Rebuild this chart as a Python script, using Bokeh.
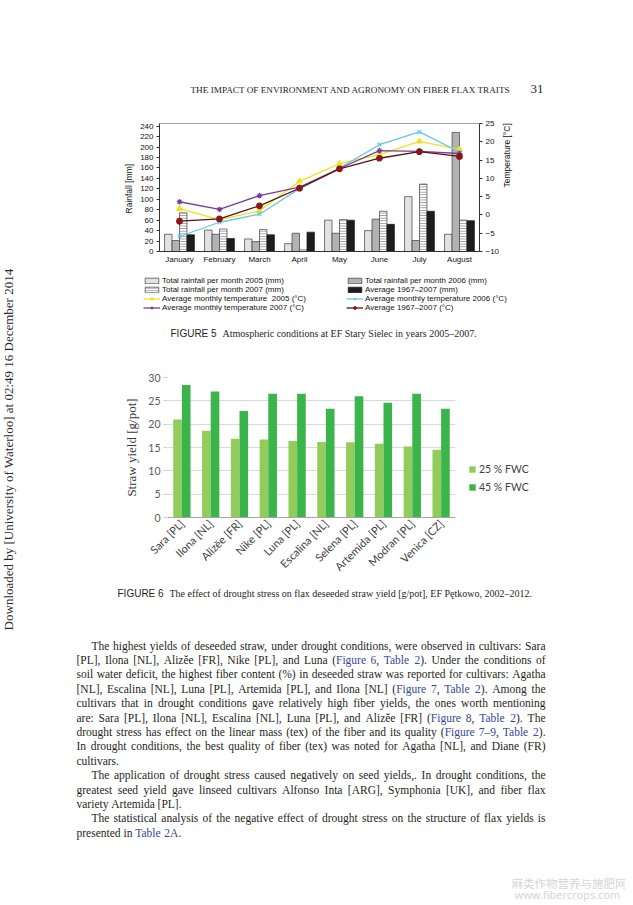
import math
from bokeh.plotting import figure
from bokeh.models import (ColumnDataSource, FactorRange, Range1d, LinearAxis, FixedTicker,
                          Legend, LegendItem)
from bokeh.layouts import row, column
from bokeh.transform import dodge
from bokeh.core.properties import value
from bokeh.embed import file_html
from bokeh.resources import INLINE

# ---------------- data: Figure 5 ----------------
months = ["January", "February", "March", "April", "May", "June", "July", "August"]
rain_2005 = [33, 41, 24, 15, 60, 40, 105, 33]
rain_2006 = [21, 33, 19, 35, 35, 62, 21, 228]
rain_2007 = [74, 43, 42, 3, 61, 77, 129, 60]
rain_avg = [32, 25, 32, 37, 60, 52, 77, 59]
temp_2005 = [1.7, -1.3, 1.1, 9.2, 14.0, 16.5, 20.1, 17.9]
temp_2006 = [-5.9, -2.0, 0.2, 7.2, 12.8, 19.2, 22.7, 17.2]
temp_2007 = [3.6, 1.5, 5.3, 7.6, 12.7, 17.6, 17.4, 16.8]
temp_avg = [-1.7, -1.1, 2.5, 7.3, 12.6, 15.5, 17.3, 16.0]
rain_ticks = list(range(0, 241, 20))
temp_ticks = list(range(-10, 26, 5))

# ---------------- data: Figure 6 ----------------
cultivars = ["Sara [PL]", "Ilona [NL]", "Alizĕe [FR]", "Nike [PL]", "Luna [PL]",
             "Escalina [NL]", "Selena [PL]", "Artemida [PL]", "Modran [PL]", "Venica [CZ]"]
fwc_25 = [21.0, 18.6, 16.9, 16.7, 16.4, 16.2, 16.1, 15.8, 15.2, 14.5]
fwc_45 = [28.4, 27.0, 22.8, 26.5, 26.5, 23.3, 26.0, 24.6, 26.5, 23.3]
yield_ticks = [0, 5, 10, 15, 20, 25, 30]

# ---------------- page text ----------------
header_text = "THE IMPACT OF ENVIRONMENT AND AGRONOMY ON FIBER FLAX TRAITS"
page_no = "31"
side_text = "Downloaded by [University of Waterloo] at 02:49 16 December 2014"
cap5_a, cap5_b = "FIGURE 5", "Atmospheric conditions at EF Stary Sielec in years 2005\u20132007."
cap6_a, cap6_b = "FIGURE 6", "The effect of drought stress on flax deseeded straw yield [g/pot], EF P\u0119tkowo, 2002\u20132012."
body_lines = [
    ("The highest yields of deseeded straw, under drought conditions, were observed in cultivars: Sara", True, False),
    ("[PL], Ilona [NL], Aliz\u0115e [FR], Nike [PL], and Luna ({Figure 6}, {Table 2}). Under the conditions of", False, False),
    ("soil water deficit, the highest fiber content (%) in deseeded straw was reported for cultivars: Agatha", False, False),
    ("[NL], Escalina [NL], Luna [PL], Artemida [PL], and Ilona [NL] ({Figure 7}, {Table 2}). Among the", False, False),
    ("cultivars that in drought conditions gave relatively high fiber yields, the ones worth mentioning", False, False),
    ("are: Sara [PL], Ilona [NL], Escalina [NL], Luna [PL], and Aliz\u0115e [FR] ({Figure 8}, {Table 2}). The", False, False),
    ("drought stress has effect on the linear mass (tex) of the fiber and its quality ({Figure 7\u20139}, {Table 2}).", False, False),
    ("In drought conditions, the best quality of fiber (tex) was noted for Agatha [NL], and Diane (FR)", False, False),
    ("cultivars.", False, True),
    ("The application of drought stress caused negatively on seed yields,. In drought conditions, the", True, False),
    ("greatest seed yield gave linseed cultivars Alfonso Inta [ARG], Symphonia [UK], and fiber flax", False, False),
    ("variety Artemida [PL].", False, True),
    ("The statistical analysis of the negative effect of drought stress on the structure of flax yields is", True, False),
    ("presented in {Table 2A}.", False, True),
]
wm_cn = "麻类作物营养与施肥网"
wm_url = "www.fibercrops.com"

SANS = "Liberation Sans"
SERIF = "Liberation Serif"
CAL = "Lato"
INK = "#231f20"
LINK = "#34469a"

RW = 597          # right column width
STRIP_W = 28
H_HEAD, H_C5, H_L5, H_C6, H_BODY = 112, 160, 73, 239, 319
TOTAL_H = H_HEAD + H_C5 + H_L5 + H_C6 + H_BODY


def no_align(p):
    try:
        p.frame_align = False
    except Exception:
        pass
    return p


def canvas(w, h):
    p = figure(frame_width=w, frame_height=h, x_range=Range1d(0, w), y_range=Range1d(h, 0),
               x_axis_type=None, y_axis_type=None, toolbar_location=None,
               output_backend="svg", min_border=0, title=None)
    p.outline_line_color = None
    p.background_fill_color = "white"
    p.border_fill_color = "white"
    return no_align(p)


def put(p, x, y, text, size, font=SERIF, color=INK, align="left", baseline="middle",
        angle=0.0, style="normal"):
    p.text(x=[x], y=[y], text=[text], text_font=value(font), text_font_size=f"{size}px",
           text_color=color, text_align=align, text_baseline=baseline, angle=angle,
           text_font_style=style)


# Times (Liberation Serif) advance widths, per 1000 em
TW = {' ': 250, ',': 250, '.': 250, ':': 278, ';': 278, '(': 333, ')': 333, '[': 333,
      ']': 333, '%': 833, '\u2013': 500, '-': 333, '/': 278, '\u0115': 444, '\u0119': 444}
TW.update(dict(zip("abcdefghijklmnopqrstuvwxyz",
                   [444, 500, 444, 500, 444, 333, 500, 500, 278, 278, 500, 278, 778, 500,
                    500, 500, 500, 333, 389, 278, 500, 500, 722, 500, 500, 444])))
TW.update(dict(zip("ABCDEFGHIJKLMNOPQRSTUVWXYZ",
                   [722, 667, 667, 722, 611, 556, 722, 722, 333, 389, 722, 611, 889, 722,
                    722, 556, 722, 667, 556, 611, 722, 722, 944, 722, 722, 611])))
TW.update({d: 500 for d in "0123456789"})


def tw(s, fs):
    return sum(TW.get(c, 500) for c in s) * fs / 1000.0


# ---------------- left strip ----------------
strip = canvas(STRIP_W, TOTAL_H)
put(strip, 8, 449, side_text, 13, font=SERIF, color="#2a2a2a", align="center",
    angle=math.pi / 2)

# ---------------- header ----------------
head = canvas(RW, H_HEAD)
put(head, 162, 89, header_text, 9.2, font=SERIF, color=INK)
put(head, 502, 88, page_no, 13, font=SERIF, color=INK)

# ---------------- Figure 5 ----------------
src5 = ColumnDataSource(dict(month=months, r05=rain_2005, r06=rain_2006, r07=rain_2007,
                             ravg=rain_avg, t05=temp_2005, t06=temp_2006, t07=temp_2007,
                             tavg=temp_avg))
p5 = figure(frame_width=320, frame_height=128, x_range=FactorRange(factors=months),
            y_range=Range1d(0, 245), toolbar_location=None, output_backend="svg",
            min_border_left=131, min_border_right=146, min_border_top=11,
            min_border_bottom=21, title=None)
no_align(p5)
p5.extra_y_ranges = {"temp": Range1d(-10, 25)}
p5.xgrid.visible = False
p5.ygrid.visible = False
p5.outline_line_color = "#a0a0a0"

rain_series = [
    ("Total rainfall per month 2005 (mm)", "r05",
     dict(fill_color="#e2e2e2", line_color="#3c3c3c")),
    ("Total rainfall per month 2006 (mm)", "r06",
     dict(fill_color="#b2b2b2", line_color="#3c3c3c")),
    ("Total rainfall per month 2007 (mm)", "r07",
     dict(fill_color="white", line_color="#3c3c3c", hatch_pattern="horizontal_line",
          hatch_color="#8a8a8a", hatch_scale=2.6, hatch_weight=0.9)),
    ("Average 1967\u20132007 (mm)", "ravg",
     dict(fill_color="#1d1d1d", line_color="#1d1d1d")),
]
offsets = [-0.28, -0.093, 0.093, 0.28]
for (lab, key, st), off in zip(rain_series, offsets):
    p5.vbar(x=dodge("month", off, range=p5.x_range), top=key, width=0.186, source=src5,
            line_width=0.7, **st)

temp_series = [
    ("Average monthly temperature  2005 (\u00b0C)", "t05",
     dict(color="#efe21a", marker="triangle", mfill="#efe21a")),
    ("Average monthly temperature 2006 (\u00b0C)", "t06",
     dict(color="#63c7ec", marker="x", mfill="#63c7ec")),
    ("Average monthly temperature 2007 (\u00b0C)", "t07",
     dict(color="#7a3d97", marker="asterisk", mfill="#7a3d97")),
    ("Average 1967\u20132007 (\u00b0C)", "tavg",
     dict(color="#5e1010", marker="circle", mfill="#8a1616")),
]
for lab, key, st in temp_series:
    p5.line(x="month", y=key, source=src5, y_range_name="temp", line_color=st["color"],
            line_width=1.3)
    p5.scatter(x="month", y=key, source=src5, y_range_name="temp", marker=st["marker"],
               size=5.5, line_color=st["mfill"], fill_color=st["mfill"], line_width=1.2)

ax_l = p5.yaxis[0]
ax_l.ticker = FixedTicker(ticks=rain_ticks)
ax_l.axis_label = "Rainfall  [mm]"
ax_r = LinearAxis(y_range_name="temp", ticker=FixedTicker(ticks=temp_ticks),
                  axis_label="Temperature [\u00b0C]")
p5.add_layout(ax_r, "right")
for ax in (ax_l, ax_r, p5.xaxis[0]):
    ax.major_label_text_font = SANS
    ax.major_label_text_font_size = "8px"
    ax.major_label_text_color = "#111111"
    ax.axis_label_text_font = SANS
    ax.axis_label_text_font_size = "8.5px"
    ax.axis_label_text_font_style = "normal"
    ax.axis_label_text_color = "#111111"
    ax.axis_line_color = "#333333"
    ax.major_tick_line_color = "#333333"
    ax.minor_tick_line_color = None
    ax.major_tick_in = 0
    ax.major_tick_out = 3
    ax.major_label_standoff = 3
ax_l.axis_label_standoff = 3
ax_r.axis_label_standoff = 5
try:
    ax_r.axis_label_orientation = math.pi / 2
except Exception:
    pass
p5.xaxis[0].major_tick_out = 0
p5.xaxis[0].major_label_standoff = 3

# ---------------- Figure 5 legend + caption ----------------
# legend-only renderers: their single point is NaN, so nothing is drawn on the canvas
l5 = canvas(RW, H_L5)
nan_x, nan_y = [float("nan")], [float("nan")]
leg_items_l, leg_items_r = [], []
all5 = [(lab, "bar", st) for lab, key, st in rain_series] + \
       [(lab, "line", st) for lab, key, st in temp_series]
for i, (lab, kind, st) in enumerate(all5):
    if kind == "bar":
        rr = [l5.vbar(x=nan_x, top=nan_y, width=1, line_width=0.7, **st)]
    else:
        rr = [l5.line(x=nan_x, y=nan_y, line_color=st["color"], line_width=1.3),
              l5.scatter(x=nan_x, y=nan_y, marker=st["marker"], size=5,
                         line_color=st["mfill"], fill_color=st["mfill"])]
    item = LegendItem(label=lab, renderers=rr)
    (leg_items_l if i % 2 == 0 else leg_items_r).append(item)
for items, lx in ((leg_items_l, 115), (leg_items_r, 318)):
    lg = Legend(items=items, location=(lx, 33), orientation="vertical",
                label_text_font=SANS, label_text_font_size="8px",
                label_text_color="#111111", label_height=8, label_standoff=2,
                glyph_width=17, glyph_height=7, spacing=0, padding=0, margin=0,
                border_line_color=None, background_fill_alpha=0)
    try:
        lg.label_text_line_height = 1.0
    except Exception:
        pass
    l5.add_layout(lg)
put(l5, 142, 61, cap5_a, 10, font=SANS, color=INK)
put(l5, 194, 61, cap5_b, 10, font=SERIF, color=INK)

# ---------------- Figure 6 ----------------
src6 = ColumnDataSource(dict(cult=cultivars, f25=fwc_25, f45=fwc_45))
p6 = figure(frame_width=288, frame_height=140, x_range=FactorRange(factors=cultivars),
            y_range=Range1d(0, 30), toolbar_location=None, output_backend="svg",
            min_border_left=139, min_border_right=170, min_border_top=32,
            min_border_bottom=67, title=None)
no_align(p6)
p6.outline_line_color = None
p6.xgrid.visible = False
p6.ygrid.grid_line_color = "#d9d9d9"
p6.ygrid.grid_line_width = 1
p6.yaxis.ticker = FixedTicker(ticks=yield_ticks)
r25 = p6.vbar(x=dodge("cult", -0.15, range=p6.x_range), top="f25", width=0.3, source=src6,
              fill_color="#92cc5b", line_color=None)
r45 = p6.vbar(x=dodge("cult", 0.15, range=p6.x_range), top="f45", width=0.3, source=src6,
              fill_color="#3bb44c", line_color=None)
ya = p6.yaxis[0]
ya.axis_label = "Straw yield [g/pot]"
ya.axis_label_text_font = SERIF
ya.axis_label_text_font_size = "13px"
ya.axis_label_text_font_style = "normal"
ya.axis_label_text_color = "#3a3a3a"
ya.axis_label_standoff = 6
ya.axis_line_color = None
ya.major_tick_line_color = "#cfcfcf"
ya.major_tick_out = 4
ya.major_tick_in = 0
ya.minor_tick_line_color = None
ya.major_label_text_font = CAL
ya.major_label_text_font_size = "10.5px"
ya.major_label_text_color = "#595959"
ya.major_label_standoff = 3
xa = p6.xaxis[0]
xa.axis_line_color = "#a6a6a6"
xa.major_tick_out = 0
xa.major_tick_in = 0
xa.major_label_orientation = math.pi / 4
xa.major_label_text_font = CAL
xa.major_label_text_font_size = "11px"
xa.major_label_text_color = "#404040"
xa.major_label_standoff = 4
leg6 = Legend(items=[LegendItem(label="25 % FWC", renderers=[r25]),
                     LegendItem(label="45 % FWC", renderers=[r45])],
              location=(13, 24), label_text_font=CAL, label_text_font_size="10.5px",
              label_text_color="#404040", glyph_width=8, glyph_height=8,
              label_standoff=3, spacing=6, padding=0, margin=0,
              border_line_color=None, background_fill_alpha=0)
p6.add_layout(leg6, "right")

# ---------------- caption 6 + body text ----------------
body = canvas(RW, H_BODY)
put(body, 89, 9, cap6_a, 10, font=SANS, color=INK)
put(body, 141, 9, cap6_b, 10, font=SERIF, color=INK)

FS = 11.5
X0, X1, INDENT = 48, 517, 15
Y0, DY = 61, 14.4
bx, by, bt, bc = [], [], [], []
for li, (line, indent, last) in enumerate(body_lines):
    chars, blue = [], False
    for ch in line:
        if ch == "{":
            blue = True
        elif ch == "}":
            blue = False
        else:
            chars.append((ch, blue))
    words, cur = [], []
    for ch, b in chars:
        if ch == " ":
            if cur:
                words.append(cur)
            cur = []
        else:
            cur.append((ch, b))
    if cur:
        words.append(cur)
    segs_per_word = []
    for w in words:
        segs = []
        for ch, b in w:
            if segs and segs[-1][1] == b:
                segs[-1][0] += ch
            else:
                segs.append([ch, b])
        segs_per_word.append(segs)
    widths = [sum(tw(s, FS) for s, b in sg) for sg in segs_per_word]
    x0 = X0 + (INDENT if indent else 0)
    if not last and len(words) > 1:
        gap = (X1 - x0 - sum(widths)) / (len(words) - 1)
    else:
        gap = tw(" ", FS)
    x = x0
    y = Y0 + li * DY
    for sg, wdt in zip(segs_per_word, widths):
        for s, b in sg:
            bx.append(x)
            by.append(y)
            bt.append(s)
            bc.append(LINK if b else INK)
            x += tw(s, FS)
        x += gap
body.text(x="x", y="y", text="t", source=ColumnDataSource(dict(x=bx, y=by, t=bt, c=bc)),
          text_color="c", text_font=value(SERIF), text_font_size=f"{FS}px",
          text_baseline="middle", text_align="left")

put(body, 483, 298, wm_cn, 11.5, font="Noto Sans CJK SC", color="#d6d6d6")
put(body, 486, 310, wm_url, 11, font="Noto Sans", color="#d6d6d6")

page = row(strip, column(head, p5, l5, p6, body, spacing=0), spacing=0)
open("out.html", "w").write(file_html(page, INLINE))
